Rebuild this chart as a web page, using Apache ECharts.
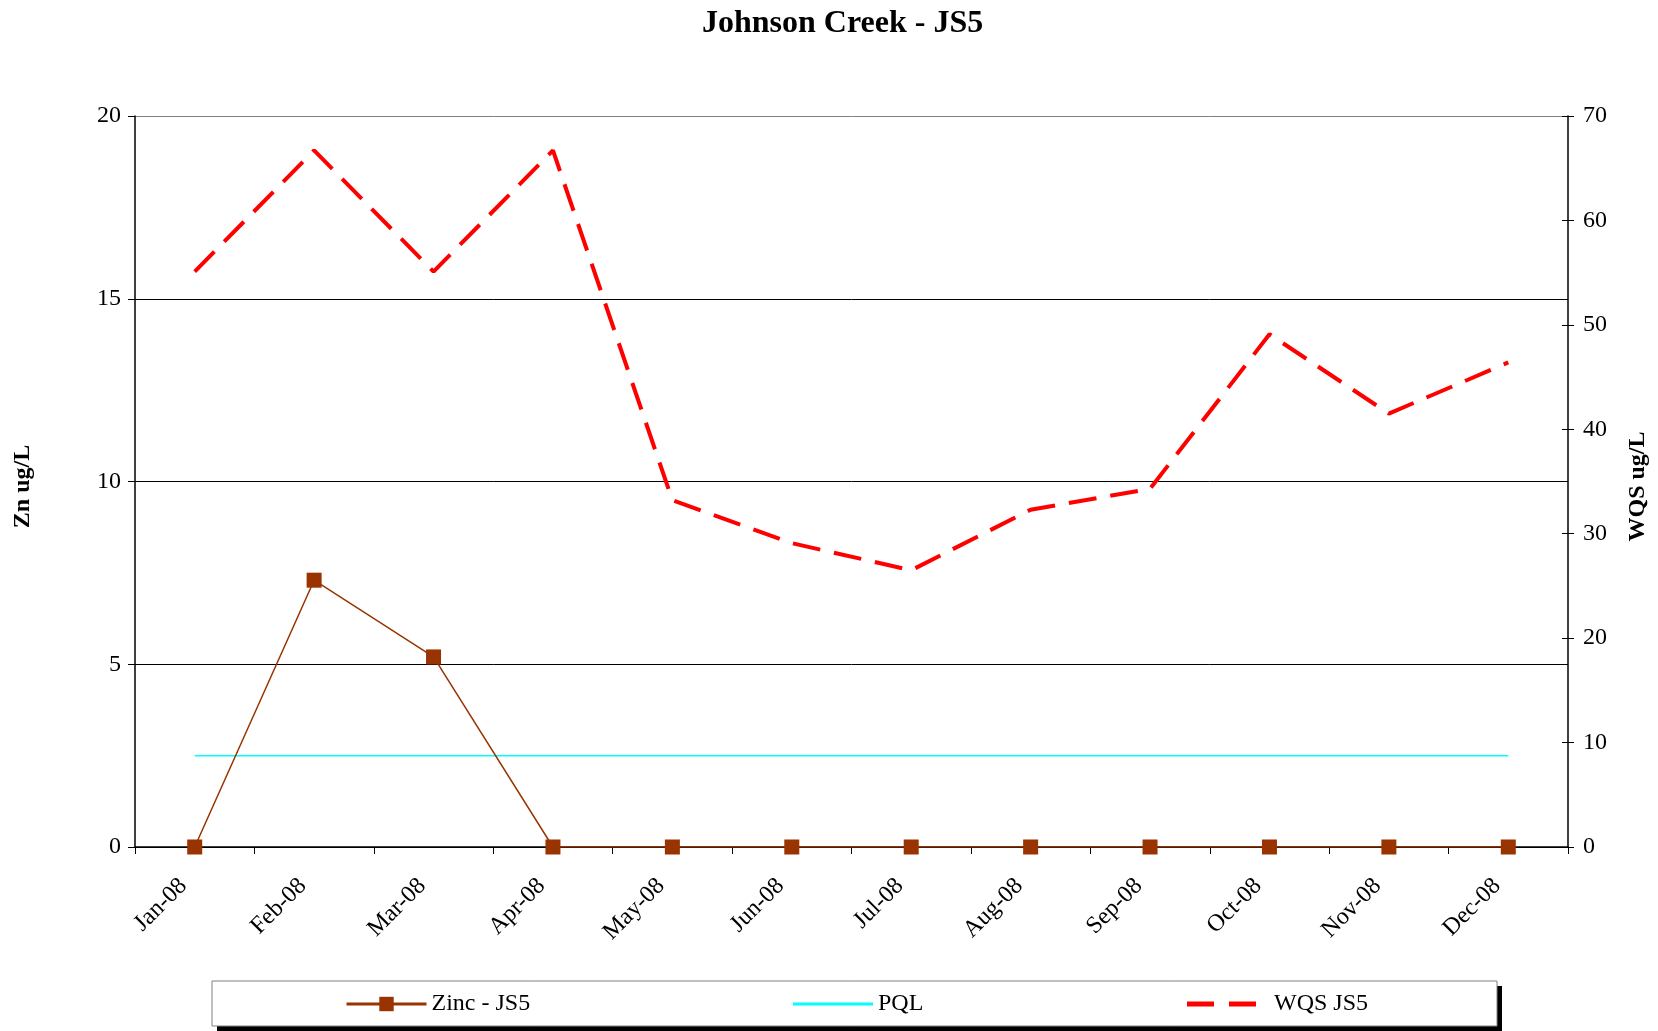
<!DOCTYPE html>
<html>
<head>
<meta charset="utf-8">
<title>Johnson Creek - JS5</title>
<script src="https://cdn.jsdelivr.net/npm/echarts@6/dist/echarts.min.js"></script>
<style>
  html, body { margin: 0; padding: 0; background: #fff; }
  #chart { width: 1658px; height: 1031px; }
</style>
</head>
<body>
<div id="chart"></div>
<script>
  const months = ["Jan-08", "Feb-08", "Mar-08", "Apr-08", "May-08", "Jun-08",
    "Jul-08", "Aug-08", "Sep-08", "Oct-08", "Nov-08", "Dec-08"];
  const zinc = [0, 7.3, 5.2, 0, 0, 0, 0, 0, 0, 0, 0, 0];
  const pql = [2.5, 2.5, 2.5, 2.5, 2.5, 2.5, 2.5, 2.5, 2.5, 2.5, 2.5, 2.5];
  const wqs = [55.1, 66.7, 55.1, 66.7, 33.2, 29.1, 26.5, 32.3, 34.3, 49.1, 41.5, 46.4];

  const font = "'Liberation Serif', 'Times New Roman', serif";
  const chart = echarts.init(document.getElementById("chart"));

  const legendBase = {
    top: 992,
    padding: 0,
    itemWidth: 80,
    itemHeight: 18,
    itemGap: 0,
    textStyle: { fontFamily: font, fontSize: 24, color: "#000" },
    selectedMode: false,
  };

  chart.setOption({
    animation: false,
    backgroundColor: "#fff",
    title: {
      text: "Johnson Creek - JS5",
      left: 697,
      top: 3,
      textStyle: { fontFamily: font, fontSize: 32, fontWeight: "bold", color: "#000" },
    },
    graphic: [
      {
        type: "rect",
        shape: { x: 217, y: 986, width: 1285, height: 45 },
        style: { fill: "#000" },
        z: 0,
      },
      {
        type: "rect",
        shape: { x: 212, y: 981, width: 1285, height: 45 },
        style: { fill: "#fff", stroke: "#808080", lineWidth: 1 },
        z: 1,
      },
    ],
    legend: [
      Object.assign({}, legendBase, {
        left: 345,
        lineStyle: { width: 3 },
        data: ["Zinc - JS5"],
      }),
      Object.assign({}, legendBase, {
        left: 793,
        itemHeight: 3,
        data: [{ name: "PQL", icon: "path://M0,0H80V3H0Z" }],
      }),
      Object.assign({}, legendBase, {
        left: 1187,
        itemWidth: 69,
        itemHeight: 5,
        textStyle: { fontFamily: font, fontSize: 24, color: "#000", padding: [0, 0, 0, 13] },
        data: [{ name: "WQS JS5", icon: "path://M0,0H27V5H0Z M42,0H69V5H42Z" }],
      }),
    ],
    grid: { left: 135, right: 87, top: 116, bottom: 184 },
    xAxis: {
      type: "category",
      data: months,
      boundaryGap: true,
      axisLine: { lineStyle: { color: "#000", width: 1.5 } },
      axisTick: { show: true, length: 7, lineStyle: { color: "#000" } },
      axisLabel: {
        rotate: 45,
        margin: 24,
        padding: [0, 16, 0, 0],
        interval: 0,
        fontFamily: font,
        fontSize: 24,
        color: "#000",
      },
    },
    yAxis: [
      {
        type: "value",
        min: 0,
        max: 20,
        interval: 5,
        name: "Zn ug/L",
        nameLocation: "middle",
        nameRotate: 90,
        nameGap: 100,
        nameTextStyle: {
          fontFamily: font, fontSize: 24, fontWeight: "bold", color: "#000",
          padding: [0, 10, 0, 0],
        },
        axisLine: { show: true, lineStyle: { color: "#000", width: 1.5 } },
        axisTick: { show: true, length: 7, lineStyle: { color: "#000" } },
        axisLabel: { margin: 14, fontFamily: font, fontSize: 24, color: "#000" },
        splitLine: {
          show: true,
          lineStyle: { color: ["#000", "#000", "#000", "#000", "#808080"], width: 1 },
        },
      },
      {
        type: "value",
        min: 0,
        max: 70,
        interval: 10,
        position: "right",
        name: "WQS ug/L",
        nameLocation: "middle",
        nameRotate: 90,
        nameGap: 58,
        nameTextStyle: {
          fontFamily: font, fontSize: 24, fontWeight: "bold", color: "#000",
          padding: [0, 10, 0, 0],
        },
        axisLine: { show: true, lineStyle: { color: "#000", width: 1.5 } },
        axisTick: { show: true, length: 6, lineStyle: { color: "#000" } },
        axisLabel: { margin: 15, fontFamily: font, fontSize: 24, color: "#000" },
        splitLine: { show: false },
      },
      {
        // inside ticks on the right axis so they cross the line
        type: "value",
        min: 0,
        max: 70,
        interval: 10,
        position: "right",
        axisLine: { show: false },
        axisTick: { show: true, inside: true, length: 6, lineStyle: { color: "#000" } },
        axisLabel: { show: false },
        splitLine: { show: false },
      },
    ],
    series: [
      {
        name: "Zinc - JS5",
        type: "line",
        data: zinc,
        yAxisIndex: 0,
        symbol: "rect",
        symbolSize: 15,
        itemStyle: { color: "#993300" },
        lineStyle: { color: "#993300", width: 1.5 },
        z: 5,
      },
      {
        name: "PQL",
        type: "line",
        data: pql,
        yAxisIndex: 0,
        symbol: "none",
        itemStyle: { color: "#00ffff" },
        lineStyle: { color: "#00ffff", width: 1.5 },
        z: 4,
      },
      {
        name: "WQS JS5",
        type: "line",
        data: wqs,
        yAxisIndex: 1,
        symbol: "none",
        itemStyle: { color: "#ff0000" },
        lineStyle: { color: "#ff0000", width: 4, type: [28, 14] },
        z: 3,
      },
    ],
  });
</script>
</body>
</html>
